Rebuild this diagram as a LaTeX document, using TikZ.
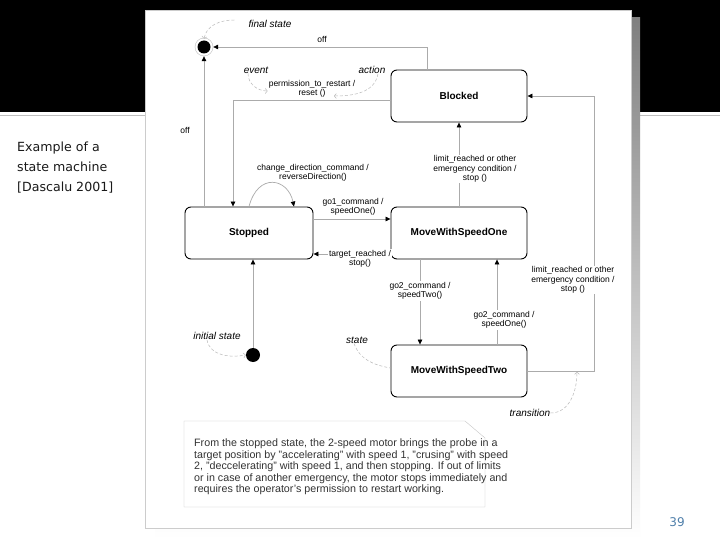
\documentclass[tikz,border=0pt]{standalone}
\usepackage{fontspec}
\setmainfont{Liberation Sans}
\newfontfamily\slidefont{DejaVu Sans}
\usetikzlibrary{arrows.meta}
\definecolor{wire}{HTML}{ABABAB}
\definecolor{shade}{HTML}{9A9A9A}
\definecolor{pagenum}{HTML}{4F7FAA}
\tikzset{
  state/.style={draw, line width=0.9pt, rounded corners=6pt, minimum width=136pt,
    minimum height=52pt, font=\fontsize{10}{12}\selectfont\bfseries},
  trans/.style={draw=wire, line width=0.7pt, -{Triangle[black,length=5pt,width=4.5pt]}},
  lbl/.style={font=\fontsize{8.5}{9.5}\selectfont, align=center, inner sep=1pt},
  tag/.style={font=\fontsize{10}{12}\selectfont\itshape, inner sep=0pt},
  pointer/.style={draw=gray!55, line width=0.5pt, densely dashed, -{To[length=2.5pt]}}
}
\begin{document}
\begin{tikzpicture}[x=1pt,y=-1pt]

\useasboundingbox (0,0) rectangle (720,540);
\fill[white] (0,0) rectangle (720,540);
\fill[black] (0,0) rectangle (720,112);
\draw[gray!50, line width=1pt] (0,115.5) -- (720,115.5);

% the scanned page with its shadow
\fill[shade] (155,18) rectangle (640,538);
\filldraw[fill=white, draw=gray!40] (145,10) rectangle (631,528);

\node[anchor=west, align=left, inner sep=0pt, font=\slidefont\fontsize{12.6}{20}\selectfont, text=black!90]
  (caption) at (17,168) {Example of a\\state machine\\{}[Dascalu 2001]};
\node[font=\slidefont\fontsize{12}{14}\selectfont, text=pagenum] (page) at (677,522) {39};

% states
\node[state] (blocked) at (459,96) {Blocked};
\node[state, minimum width=128pt] (stopped) at (249,233) {Stopped};
\node[state] (one) at (459,233) {MoveWithSpeedOne};
\node[state] (two) at (459,371) {MoveWithSpeedTwo};

\node[circle, draw=gray!50, minimum size=18pt, inner sep=0pt] (final) at (204,47) {};
\fill (final) circle (6.5pt);
\node[circle, fill=black, minimum size=14pt, inner sep=0pt] (init) at (253,355) {};

% transitions
\draw[trans] (stopped.north -| final) -- (final);
\node[lbl] (off1) at (185,130) {off};
\draw[trans] ([xshift=-32pt]blocked.north) |- (final);
\node[lbl] (off2) at (322,39) {off};
\draw[trans] ([yshift=-4pt]blocked.west) -| ([xshift=-16pt]stopped.north);
\node[lbl] (perm) at (312,89) {permission\_to\_restart /\\ reset ()};

\draw[trans] (one.north) -- (blocked.south);
\node[lbl, fill=white] (lim1) at (475,169) {limit\_reached or other\\ emergency condition /\\ stop ()};
\draw[trans] (two.east) -- ++(67,0) |- (blocked.east);
\node[lbl, fill=white] (lim2) at (573,280) {limit\_reached or other\\ emergency condition /\\ stop ()};

\draw[trans] ([yshift=14pt]stopped.east) -- ([yshift=14pt]one.west);
\node[lbl] (go1) at (353,207) {go1\_command /\\ speedOne()};
\draw[trans] ([yshift=-21pt]one.west) -- ([yshift=-21pt]stopped.east);
\node[lbl, fill=white] (reach) at (360,259) {target\_reached /\\ stop()};

\draw[trans] (stopped.north) .. controls (258,172) and (288,178) .. ([xshift=45pt]stopped.north);
\node[lbl] (chdir) at (313,173) {change\_direction\_command /\\ reverseDirection()};

\draw[trans] ([xshift=-39pt]one.south) -- ([xshift=-39pt]two.north);
\node[lbl, fill=white] (go2a) at (420,291) {go2\_command /\\ speedTwo()};
\draw[trans] ([xshift=38pt]two.north) -- ([xshift=38pt]one.south);
\node[lbl, fill=white] (go2b) at (504,320) {go2\_command /\\ speedOne()};

\draw[trans] (init) -- (init |- stopped.south);

% italic tags
\node[tag] (fslab) at (270,24) {final state};
\draw[pointer] ([xshift=-14pt,yshift=4pt]fslab.west) to[out=180,in=80] ([yshift=-1pt]final.north);
\node[tag] (evlab) at (256,70) {event};
\draw[pointer] ([xshift=-8pt]evlab.south) to[out=-90,in=180] ([yshift=-2pt]perm.west);
\node[tag] (aclab) at (372,70) {action};
\coordinate (resetend) at (334,96);
\draw[pointer] ([xshift=6pt]aclab.south) to[out=-100,in=0] (resetend);
\node[tag] (inlab) at (217,336) {initial state};
\draw[pointer] ([xshift=-10pt]inlab.south) to[out=-80,in=190] (init.west);
\node[tag] (stlab) at (357,340) {state};
\draw[pointer, -] ([xshift=-3pt]stlab.south) to[out=-70,in=170] ([yshift=3pt]two.west);
\node[tag] (trlab) at (530,413) {transition};
\coordinate (trend) at (577,372);
\draw[pointer] (trlab.east) to[out=0,in=-90] (trend);

% note
\draw[draw=gray!45, fill=white] (184,421) -- (465,421) -- (485,438) -- (485,507) -- (184,507) -- cycle;
\node[anchor=west, align=left, inner sep=0pt, font=\fontsize{10.7}{11.4}\selectfont, text=black!80]
  (memo) at (194,467) {From the stopped state, the 2-speed motor brings the probe in a\\
  target position by "accelerating" with speed 1, "crusing" with speed\\
  2, "deccelerating" with speed 1, and then stopping. If out of limits\\
  or in case of another emergency, the motor stops immediately and\\
  requires the operator's permission to restart working.};

\end{tikzpicture}
\end{document}
